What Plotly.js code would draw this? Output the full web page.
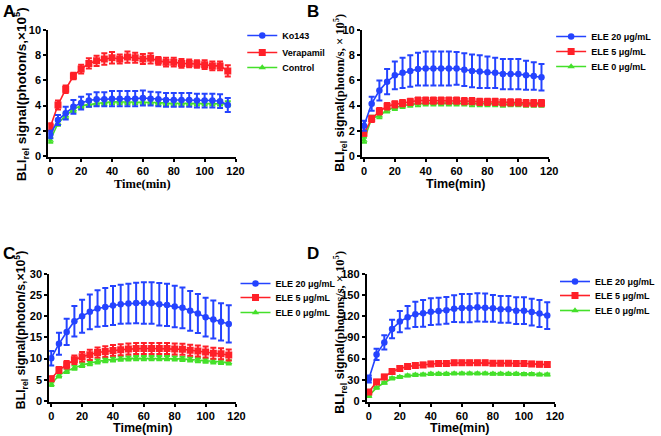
<!DOCTYPE html>
<html>
<head>
<meta charset="utf-8">
<script src="https://cdn.plot.ly/plotly-3.0.1.min.js"></script>
<style>html,body{margin:0;padding:0;background:#fff;}#chart{width:661px;height:436px;}</style>
</head>
<body>
<div id="chart"></div>
<script>
// Time points (min)
const time = [0,5,10,15,20,25,30,35,40,45,50,55,60,65,70,75,80,85,90,95,100,105,110,115];

// Panel A
const aNames = ["Ko143","Verapamil","Control"];
const aKo143 = [1.7,2.85,3.4,3.9,4.2,4.4,4.5,4.5,4.55,4.55,4.55,4.55,4.6,4.55,4.5,4.45,4.45,4.45,4.45,4.4,4.4,4.4,4.35,4.05];
const aKo143Err = [0.3,0.4,0.5,0.55,0.5,0.5,0.55,0.55,0.6,0.6,0.6,0.6,0.6,0.55,0.55,0.55,0.55,0.55,0.55,0.55,0.55,0.55,0.55,0.55];
const aVera = [2.3,4.05,5.3,6.35,6.9,7.35,7.55,7.7,7.8,7.7,7.85,7.8,7.7,7.75,7.55,7.45,7.45,7.35,7.35,7.3,7.25,7.15,7.15,6.75];
const aVeraErr = [0.3,0.35,0.3,0.25,0.35,0.4,0.4,0.45,0.45,0.35,0.45,0.4,0.4,0.4,0.3,0.35,0.35,0.35,0.3,0.3,0.35,0.35,0.35,0.45];
const aCtrl = [1.25,2.6,3.2,3.7,4.0,4.1,4.2,4.25,4.3,4.3,4.3,4.3,4.3,4.3,4.25,4.2,4.2,4.2,4.2,4.2,4.2,4.2,4.2,4.15];
const aCtrlErr = [0.2,0.2,0.2,0.2,0.2,0.2,0.2,0.2,0.2,0.2,0.2,0.2,0.2,0.2,0.2,0.2,0.2,0.2,0.2,0.2,0.2,0.2,0.2,0.2];

// Panel B
const eleNames = ["ELE 20 μg/mL","ELE 5 μg/mL","ELE 0 μg/mL"];
const b20 = [2.4,4.15,5.2,5.9,6.4,6.6,6.75,6.9,6.95,6.95,6.95,6.95,6.95,6.85,6.75,6.7,6.65,6.6,6.5,6.5,6.5,6.4,6.35,6.25];
const b20Err = [0.4,0.55,0.8,1.0,1.1,1.2,1.25,1.3,1.35,1.35,1.35,1.35,1.3,1.3,1.3,1.3,1.25,1.2,1.2,1.2,1.2,1.15,1.1,1.05];
const b5 = [1.8,2.95,3.55,3.95,4.1,4.2,4.3,4.4,4.4,4.4,4.4,4.4,4.4,4.35,4.35,4.3,4.3,4.3,4.25,4.25,4.25,4.2,4.2,4.2];
const b5Err = [0.2,0.25,0.25,0.25,0.25,0.25,0.25,0.25,0.25,0.25,0.25,0.25,0.25,0.25,0.25,0.25,0.25,0.25,0.25,0.25,0.25,0.25,0.25,0.25];
const b0 = [1.25,3.0,3.2,3.65,3.85,4.0,4.1,4.15,4.2,4.2,4.2,4.2,4.2,4.2,4.15,4.15,4.15,4.15,4.1,4.15,4.15,4.1,4.1,4.1];
const b0Err = [0.2,0.2,0.2,0.2,0.2,0.2,0.2,0.2,0.2,0.2,0.2,0.2,0.2,0.2,0.2,0.2,0.2,0.2,0.2,0.2,0.2,0.2,0.2,0.2];

// Panel C
const c20 = [10.1,13.5,16.3,18.85,20.0,21.05,21.85,22.2,22.55,22.85,23.0,23.15,23.15,23.15,22.85,22.7,22.3,22.0,21.3,20.65,19.8,19.25,18.7,18.2];
const c20Err = [1.7,2.6,3.1,3.6,3.9,4.1,4.3,4.5,4.6,4.6,4.7,4.8,4.9,4.9,5.0,5.0,4.9,4.8,4.7,4.6,4.6,4.5,4.4,4.4];
const c5 = [5.25,7.3,8.55,9.75,10.45,10.9,11.45,11.7,11.95,12.1,12.25,12.4,12.4,12.4,12.4,12.4,12.25,12.2,12.0,11.8,11.55,11.3,11.15,10.85];
const c5Err = [0.5,0.7,0.9,1.0,1.1,1.2,1.2,1.25,1.25,1.3,1.3,1.3,1.3,1.3,1.3,1.3,1.3,1.3,1.3,1.3,1.3,1.3,1.3,1.3];
const c0 = [3.95,6.05,7.1,7.85,8.5,8.95,9.35,9.65,9.8,10.0,10.05,10.1,10.1,10.1,10.1,10.1,10.05,9.95,9.8,9.65,9.5,9.35,9.25,9.1];
const c0Err = [0.4,0.5,0.5,0.5,0.5,0.5,0.5,0.5,0.5,0.5,0.5,0.5,0.5,0.5,0.5,0.5,0.5,0.5,0.5,0.5,0.5,0.5,0.5,0.5];

// Panel D
const d20 = [31,66,83,102,112.5,118.6,122.8,124.2,126.6,127.5,128.5,130.8,131.7,131.7,132.7,132.2,131.3,129.9,129.9,128,128,126,124,121];
const d20Err = [5,8,10,13,15,16,18,19,19,19,19,19,20,20,20,20,19,19,19,19,19,19,19,19];
const d5 = [12.7,27,34,41.7,46,48.7,50.2,51,52.5,53,53,54,54,54,54,54,53.5,53.5,53.5,53,53,52.5,52,51.5];
const d5Err = [2.5,3,3,3,3,3,3,3,3,3,3,3,3,3,3,3,3,3,3,3,3,3,3,3];
const d0 = [7,18.8,25.8,32,34,36,37,37.5,38.4,38.4,38.4,39,39,39,39,39,38.5,38.5,38.4,38.4,38,38,37.5,37.5];
const d0Err = [1.5,1.5,1.5,1.5,1.5,1.5,1.5,1.5,1.5,1.5,1.5,1.5,1.5,1.5,1.5,1.5,1.5,1.5,1.5,1.5,1.5,1.5,1.5,1.5];

const BLUE = "#2443ff", RED = "#ff2028", GREEN = "#44e02a";
const SANS = "Liberation Sans, Arial, sans-serif";
const SERIF = "Liberation Serif, Times New Roman, serif";

function tr(y, err, name, color, symbol, xa, ya, leg) {
  return {
    x: time, y: y, name: name, type: "scatter", mode: "lines+markers",
    xaxis: xa, yaxis: ya, legend: leg,
    line: {color: color, width: 1.6},
    marker: {color: color, symbol: symbol, size: symbol === "square" ? 7 : 6.5},
    error_y: {type: "data", array: err, visible: true, color: color, thickness: 2, width: 3}
  };
}

const data = [
  tr(aCtrl, aCtrlErr, aNames[2], GREEN, "triangle-up", "x", "y", "legend3"),
  tr(aVera, aVeraErr, aNames[1], RED, "square", "x", "y", "legend2"),
  tr(aKo143, aKo143Err, aNames[0], BLUE, "circle", "x", "y", "legend"),
  tr(b0, b0Err, eleNames[2], GREEN, "triangle-up", "x2", "y2", "legend6"),
  tr(b5, b5Err, eleNames[1], RED, "square", "x2", "y2", "legend5"),
  tr(b20, b20Err, eleNames[0], BLUE, "circle", "x2", "y2", "legend4"),
  tr(c0, c0Err, eleNames[2], GREEN, "triangle-up", "x3", "y3", "legend9"),
  tr(c5, c5Err, eleNames[1], RED, "square", "x3", "y3", "legend8"),
  tr(c20, c20Err, eleNames[0], BLUE, "circle", "x3", "y3", "legend7"),
  tr(d0, d0Err, eleNames[2], GREEN, "triangle-up", "x4", "y4", "legend12"),
  tr(d5, d5Err, eleNames[1], RED, "square", "x4", "y4", "legend11"),
  tr(d20, d20Err, eleNames[0], BLUE, "circle", "x4", "y4", "legend10")
];

const W = 661, H = 436;
const px = v => v / W;
const py = v => 1 - v / H;

function xax(l, r, anchor) {
  return {
    domain: [px(l), px(r)], anchor: anchor, range: [-1.3, 120], tickvals: [0,20,40,60,80,100,120],
    showline: true, linewidth: 2, linecolor: "#000", mirror: false,
    ticks: "outside", ticklen: 3, tickwidth: 2, tickcolor: "#000",
    showgrid: false, zeroline: false,
    tickfont: {family: SANS, size: 11, color: "#000", weight: "bold"}
  };
}
function yax(top, bot, anchor, range, dtick) {
  return {
    domain: [py(bot), py(top)], anchor: anchor, range: range, dtick: dtick, tick0: 0,
    showline: true, linewidth: 2, linecolor: "#000",
    ticks: "outside", ticklen: 3, tickwidth: 2, tickcolor: "#000",
    showgrid: false, zeroline: false,
    tickfont: {family: SANS, size: 11, color: "#000", weight: "bold"}
  };
}
// one legend per entry, placed at its row (text start x, row centre y in px)
function leg(xText, yRow) {
  return {
    x: px(xText - 26), y: py(yRow - 15), xanchor: "left", yanchor: "top",
    bgcolor: "rgba(0,0,0,0)", borderwidth: 0,
    font: {family: SANS, size: 9, color: "#000", weight: "bold"},
    itemclick: false
  };
}
function ann(text, x, y, size, angle, family) {
  return {
    text: text, xref: "paper", yref: "paper", x: px(x), y: py(y),
    xanchor: "center", yanchor: "middle", showarrow: false, textangle: angle || 0,
    font: {family: family || SANS, size: size, color: "#000", weight: "bold"}
  };
}

const layout = {
  width: W, height: H, margin: {l: 0, r: 0, t: 0, b: 0},
  paper_bgcolor: "#fff", plot_bgcolor: "#fff",
  showlegend: true,
  xaxis: xax(50, 244, "y"),
  yaxis: yax(30, 157, "x", [-0.08, 10], 2),
  xaxis2: xax(375, 569, "y2"),
  yaxis2: yax(30, 157, "x2", [-0.08, 10], 2),
  xaxis3: xax(51, 245, "y3"),
  yaxis3: yax(274, 402, "x3", [-0.25, 30], 5),
  xaxis4: xax(380, 575, "y4"),
  yaxis4: yax(274, 402, "x4", [-1.5, 180], 30),
  legend: leg(277, 36), legend2: leg(277, 53), legend3: leg(277, 68),
  legend4: leg(597, 37), legend5: leg(597, 52), legend6: leg(597, 67),
  legend7: leg(270, 284), legend8: leg(270, 298), legend9: leg(270, 313),
  legend10: leg(601, 282), legend11: leg(601, 296), legend12: leg(601, 311),
  annotations: [
    ann("A", 9, 11, 17),
    ann("B", 324, 11, 17),
    ann("C", 9, 253, 17),
    ann("D", 324, 253, 17),
    ann("Time(min)", 148, 184, 12.5, 0, SERIF),
    ann("Time(min)", 472, 184, 12.5),
    ann("Time(min)", 148, 428, 12.5),
    ann("Time(min)", 477, 428, 12.5),
    ann("BLI<sub>rel</sub> signal(photon/s,×10<sup>5</sup>)", 22, 94, 13.5, -90),
    ann("BLI<sub>rel</sub> signal<span style=\"font-family:Liberation Serif\">(photon/s, × 10<sup>5</sup>)</span>", 352, 93, 12.5, -90),
    ann("BLI<sub>rel</sub> signal(photon/s,×10<sup>5</sup>)", 22, 330, 12.3, -90),
    ann("BLI<sub>rel</sub> signal<span style=\"font-family:Liberation Serif\">(photons/s, × 10<sup>5</sup>)</span>", 352, 332, 12.5, -90)
  ]
};

Plotly.newPlot("chart", data, layout, {staticPlot: true, displayModeBar: false});
</script>
</body>
</html>
